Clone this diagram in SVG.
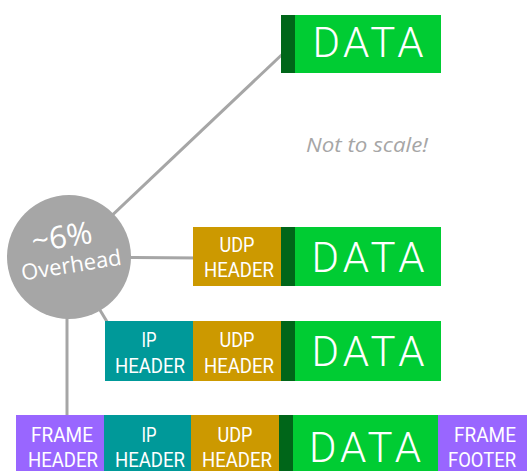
<svg xmlns="http://www.w3.org/2000/svg" width="527" height="471" viewBox="0 0 527 471">
  <style>
    .data { fill: #00CC33; }
    .mark { fill: #006619; }
    .udp { fill: #CC9900; }
    .ip { fill: #009999; }
    .frame { fill: #9966FF; }
    .hdr { font-family: Roboto, "Liberation Sans", sans-serif; font-size: 21px; fill: #FFFFFF; text-anchor: middle; }
    .big { font-family: Roboto, "Liberation Sans", sans-serif; font-weight: 300; font-size: 42px; fill: #FFFFFF; text-anchor: middle; }
    .link { stroke: #A6A6A6; stroke-width: 3; fill: none; }
  </style>

  <!-- connectors from the overhead bubble -->
  <g id="connectors">
    <line class="link" x1="68" y1="257" x2="290" y2="47"/>
    <line class="link" x1="68" y1="257" x2="200" y2="258"/>
    <line class="link" x1="68" y1="257" x2="112" y2="330"/>
    <line class="link" x1="67" y1="257" x2="67" y2="418"/>
  </g>

  <!-- payload alone -->
  <g id="data-only">
    <rect class="mark" x="281" y="15" width="14" height="58"/>
    <rect class="data" x="295" y="15" width="146" height="58"/>
    <text class="big" x="368" y="57" textLength="111" lengthAdjust="spacing">DATA</text>
  </g>

  <!-- UDP datagram -->
  <g id="udp-datagram">
    <rect class="udp" x="193" y="227" width="88" height="59"/>
    <rect class="mark" x="281" y="227" width="14" height="59"/>
    <rect class="data" x="295" y="227" width="146" height="59"/>
    <text class="hdr" x="237" y="252" textLength="35" lengthAdjust="spacingAndGlyphs">UDP</text>
    <text class="hdr" x="239" y="277" textLength="70" lengthAdjust="spacingAndGlyphs">HEADER</text>
    <text class="big" x="368" y="272" textLength="113" lengthAdjust="spacing">DATA</text>
  </g>

  <!-- IP packet -->
  <g id="ip-packet">
    <rect class="ip" x="105" y="321" width="88" height="60"/>
    <rect class="udp" x="193" y="321" width="88" height="60"/>
    <rect class="mark" x="281" y="321" width="14" height="60"/>
    <rect class="data" x="295" y="321" width="146" height="60"/>
    <text class="hdr" x="149" y="347" textLength="15" lengthAdjust="spacingAndGlyphs">IP</text>
    <text class="hdr" x="150" y="373" textLength="70" lengthAdjust="spacingAndGlyphs">HEADER</text>
    <text class="hdr" x="237" y="347" textLength="35" lengthAdjust="spacingAndGlyphs">UDP</text>
    <text class="hdr" x="239" y="373" textLength="70" lengthAdjust="spacingAndGlyphs">HEADER</text>
    <text class="big" x="368" y="366" textLength="113" lengthAdjust="spacing">DATA</text>
  </g>

  <!-- Ethernet frame -->
  <g id="frame">
    <rect class="frame" x="16" y="415" width="88" height="56"/>
    <rect class="ip" x="104" y="415" width="87" height="56"/>
    <rect class="udp" x="191" y="415" width="88" height="56"/>
    <rect class="mark" x="279" y="415" width="14" height="56"/>
    <rect class="data" x="293" y="415" width="145" height="56"/>
    <rect class="frame" x="438" y="415" width="89" height="56"/>
    <text class="hdr" x="62" y="442" textLength="62" lengthAdjust="spacingAndGlyphs">FRAME</text>
    <text class="hdr" x="63" y="467" textLength="70" lengthAdjust="spacingAndGlyphs">HEADER</text>
    <text class="hdr" x="149" y="442" textLength="15" lengthAdjust="spacingAndGlyphs">IP</text>
    <text class="hdr" x="150" y="467" textLength="70" lengthAdjust="spacingAndGlyphs">HEADER</text>
    <text class="hdr" x="235" y="442" textLength="35" lengthAdjust="spacingAndGlyphs">UDP</text>
    <text class="hdr" x="237" y="467" textLength="70" lengthAdjust="spacingAndGlyphs">HEADER</text>
    <text class="big" x="365" y="462" textLength="112" lengthAdjust="spacing">DATA</text>
    <text class="hdr" x="485" y="442" textLength="62" lengthAdjust="spacingAndGlyphs">FRAME</text>
    <text class="hdr" x="482" y="467" textLength="68" lengthAdjust="spacingAndGlyphs">FOOTER</text>
  </g>

  <!-- overhead bubble -->
  <g id="overhead">
    <circle cx="69" cy="257" r="62" fill="#A6A6A6"/>
    <g transform="rotate(-9 68 257)" font-family="'Open Sans', 'Liberation Sans', sans-serif" fill="#FFFFFF" text-anchor="middle">
      <text x="65" y="247" font-size="31">~6%</text>
      <text x="70" y="273" font-size="22">Overhead</text>
    </g>
  </g>

  <!-- caption -->
  <g id="note">
    <text x="367" y="152" font-family="'Open Sans', 'Liberation Sans', sans-serif" font-style="italic" font-size="20" fill="#A6A6A6" text-anchor="middle" textLength="122" lengthAdjust="spacingAndGlyphs">Not to scale!</text>
  </g>
</svg>
